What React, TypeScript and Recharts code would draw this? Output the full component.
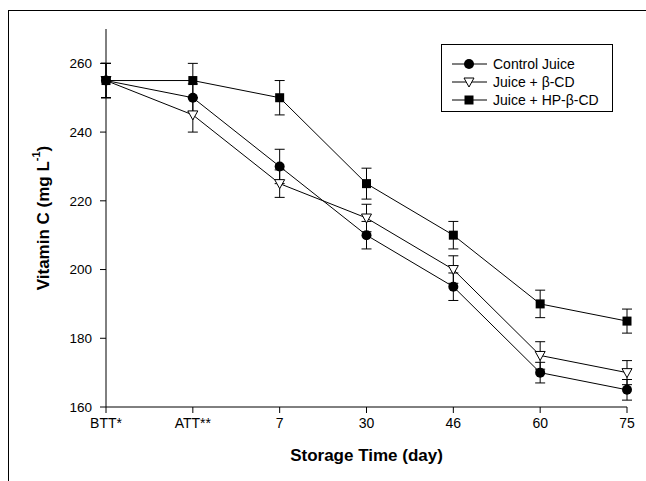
import React from 'react';
import { ErrorBar, Legend, Line, LineChart, XAxis, YAxis } from 'recharts';

const categories = ['BTT*', 'ATT**', '7', '30', '46', '60', '75'];
const controlJuice = [255, 250, 230, 210, 195, 170, 165];
const controlErr = [5, 4, 5, 4, 4, 3, 3];
const betaCD = [255, 245, 225, 215, 200, 175, 170];
const betaErr = [5, 5, 4, 4, 4, 4, 3.5];
const hpBetaCD = [255, 255, 250, 225, 210, 190, 185];
const hpErr = [5, 5, 5, 4.5, 4, 4, 3.5];
const yTicks = [160, 180, 200, 220, 240, 260];

const FONT = "'Liberation Sans', Arial, Helvetica, sans-serif";

const data = categories.map((cat, i) => ({
  cat,
  control: controlJuice[i],
  controlErr: controlErr[i],
  beta: betaCD[i],
  betaErr: betaErr[i],
  hp: hpBetaCD[i],
  hpErr: hpErr[i],
}));

function CircleDot({ cx, cy }: any) {
  if (cx == null || cy == null) return null;
  return <circle cx={cx} cy={cy} r={5} fill="#000" />;
}

function TriangleDot({ cx, cy }: any) {
  if (cx == null || cy == null) return null;
  return (
    <polygon
      points={`${cx - 5},${cy - 4} ${cx + 5},${cy - 4} ${cx},${cy + 5}`}
      fill="#fff"
      stroke="#000"
      strokeWidth={1}
    />
  );
}

function SquareDot({ cx, cy }: any) {
  if (cx == null || cy == null) return null;
  return <rect x={cx - 4.5} y={cy - 4.5} width={9} height={9} fill="#000" />;
}

const legendItems = [
  { label: 'Control Juice', Icon: CircleDot },
  { label: 'Juice + β-CD', Icon: TriangleDot },
  { label: 'Juice + HP-β-CD', Icon: SquareDot },
];

function LegendBox() {
  return (
    <div
      style={{
        border: '1px solid #000',
        width: 172,
        height: 68,
        boxSizing: 'border-box',
        paddingTop: 10,
        background: '#fff',
        fontFamily: FONT,
        fontSize: 14,
        color: '#000',
      }}
    >
      {legendItems.map(({ label, Icon }) => (
        <div key={label} style={{ display: 'flex', alignItems: 'center', height: 18 }}>
          <svg width={42} height={18} style={{ marginLeft: 9 }}>
            <line x1={1} x2={36} y1={9} y2={9} stroke="#000" strokeWidth={1} />
            <Icon cx={18} cy={9} />
          </svg>
          <span>{label}</span>
        </div>
      ))}
    </div>
  );
}

function YTitle({ viewBox }: any) {
  const cx = viewBox.x + 43;
  const cy = viewBox.y + viewBox.height / 2;
  return (
    <text
      x={cx}
      y={cy}
      transform={`rotate(-90 ${cx} ${cy})`}
      textAnchor="middle"
      dominantBaseline="central"
      fontFamily={FONT}
      fontWeight="bold"
      fontSize={17}
      fill="#000"
    >
      Vitamin C (mg L<tspan dy={-7} fontSize={11}>-1</tspan>
      <tspan dy={7}>)</tspan>
    </text>
  );
}

function XTitle({ viewBox }: any) {
  return (
    <text
      x={viewBox.x + viewBox.width / 2}
      y={viewBox.y + 48}
      textAnchor="middle"
      dominantBaseline="central"
      fontFamily={FONT}
      fontWeight="bold"
      fontSize={17}
      fill="#000"
    >
      Storage Time (day)
    </text>
  );
}

const yTickStyle = { fill: '#000', fontSize: 13.5, fontFamily: FONT };
const xTickStyle = { fill: '#000', fontSize: 14, fontFamily: FONT };

export default function App() {
  return (
    <div
      style={{
        position: 'absolute',
        left: 0,
        top: 0,
        width: 646,
        height: 481,
        overflow: 'hidden',
        background: '#fff',
      }}
    >
      <div
        style={{
          position: 'absolute',
          left: 8,
          top: 10,
          width: 700,
          height: 600,
          border: '1px solid #000',
        }}
      />
      <div style={{ position: 'absolute', left: 0, top: 0 }}>
        <LineChart width={646} height={481} data={data} margin={{ top: 29, right: 19, bottom: 0, left: 0 }}>
          <XAxis
            dataKey="cat"
            interval={0}
            padding={{ left: 0, right: 0 }}
            height={74}
            tickSize={6}
            tickMargin={5}
            tick={xTickStyle}
            stroke="#000"
            tickLine={{ stroke: '#000' }}
            axisLine={{ stroke: '#000' }}
            label={<XTitle />}
          />
          <XAxis
            xAxisId="top"
            orientation="top"
            dataKey="cat"
            height={0}
            tick={false}
            tickLine={false}
            axisLine={{ stroke: '#000' }}
          />
          <YAxis
            domain={[160, 270]}
            allowDataOverflow
            ticks={yTicks}
            width={106}
            tickSize={6}
            tickMargin={8}
            tick={yTickStyle}
            stroke="#000"
            tickLine={{ stroke: '#000' }}
            axisLine={{ stroke: '#000' }}
            label={<YTitle />}
          />
          <YAxis
            yAxisId="right"
            orientation="right"
            domain={[160, 270]}
            width={0}
            tick={false}
            tickLine={false}
            axisLine={{ stroke: '#000' }}
          />
          <Legend
            layout="vertical"
            align="center"
            verticalAlign="middle"
            content={<LegendBox />}
            wrapperStyle={{ position: 'absolute', left: 441, top: 44, width: 172, margin: 0 }}
          />
          <Line
            dataKey="control"
            name="Control Juice"
            stroke="#000"
            strokeWidth={1}
            dot={<CircleDot />}
            activeDot={false}
            isAnimationActive={false}
          >
            <ErrorBar dataKey="controlErr" width={5} stroke="#000" strokeWidth={1} direction="y" isAnimationActive={false} />
          </Line>
          <Line
            dataKey="beta"
            name="Juice + β-CD"
            stroke="#000"
            strokeWidth={1}
            dot={<TriangleDot />}
            activeDot={false}
            isAnimationActive={false}
          >
            <ErrorBar dataKey="betaErr" width={5} stroke="#000" strokeWidth={1} direction="y" isAnimationActive={false} />
          </Line>
          <Line
            dataKey="hp"
            name="Juice + HP-β-CD"
            stroke="#000"
            strokeWidth={1}
            dot={<SquareDot />}
            activeDot={false}
            isAnimationActive={false}
          >
            <ErrorBar dataKey="hpErr" width={5} stroke="#000" strokeWidth={1} direction="y" isAnimationActive={false} />
          </Line>
        </LineChart>
      </div>
    </div>
  );
}
